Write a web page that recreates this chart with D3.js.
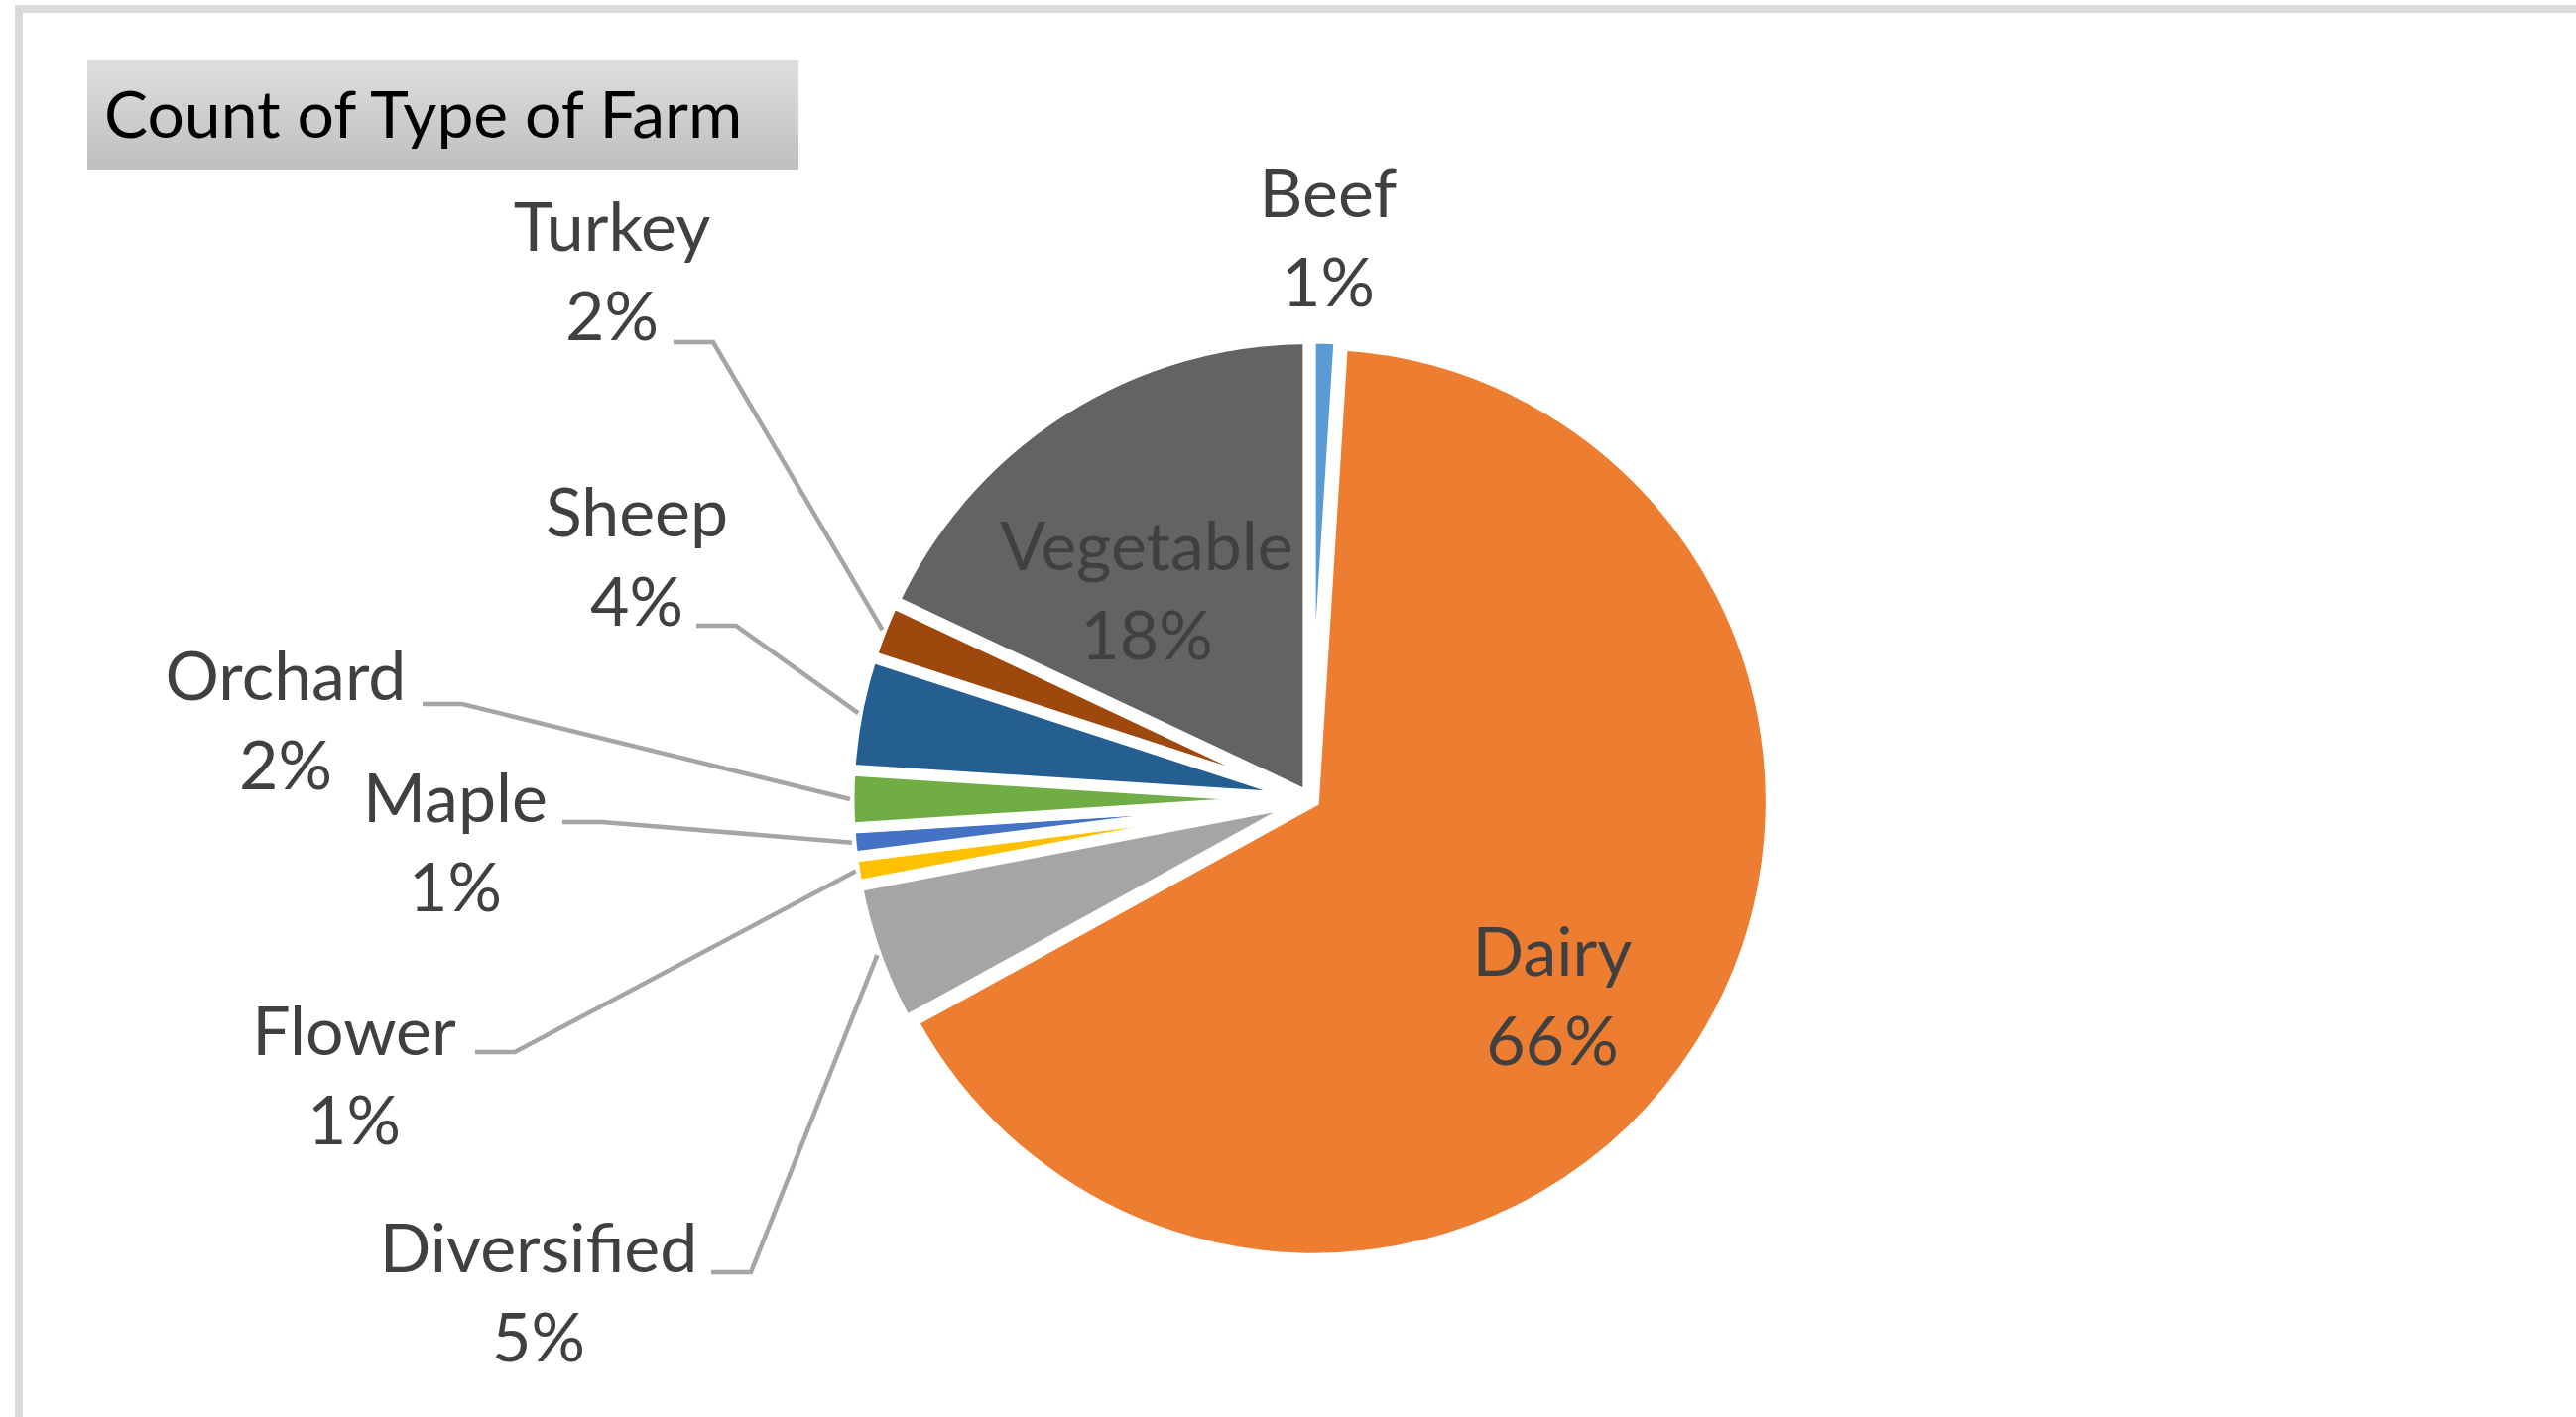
<!DOCTYPE html>
<html><head><meta charset="utf-8">
<script src="https://cdn.jsdelivr.net/npm/d3@7"></script>
<style>html,body{margin:0;padding:0;background:#fff;overflow:hidden}</style>
</head><body>
<svg id="chart" width="2597" height="1429"></svg>
<script>
// ---- data ----
const categories = ["Beef","Dairy","Diversified","Flower","Maple","Orchard","Sheep","Turkey","Vegetable"];
const counts     = [1, 66, 5, 1, 1, 2, 4, 2, 18];
const colors     = ["#5B9BD5","#ED7D31","#A5A5A5","#FFC000","#4472C4","#70AD47","#255E91","#9E480E","#636363"];
const chartTitle = "Count of Type of Farm";

// ---- label placement (Excel data-label positions) ----
const labelLayout = {
  Beef:        {x:1339, y:219},
  Dairy:       {x:1565, y:984},
  Diversified: {x:543,  y:1283, lx:717, ly:1283},
  Flower:      {x:357,  y:1064, lx:479, ly:1061},
  Maple:       {x:459,  y:829,  lx:567, ly:829},
  Orchard:     {x:288,  y:706,  lx:426, ly:710},
  Sheep:       {x:642,  y:541,  lx:702, ly:631},
  Turkey:      {x:617,  y:253,  lx:679, ly:345},
  Vegetable:   {x:1156, y:575}
};

const W = 2597, H = 1429;
const cx = 1321, cy = 806, R = 461, explode = 4;
const font = "Lato, 'Open Sans', sans-serif";
const svg = d3.select("#chart");

// chart area border
svg.append("rect").attr("x",19).attr("y",9).attr("width",W+40).attr("height",H+40)
  .attr("fill","#fff").attr("stroke","#d9d9d9").attr("stroke-width",8);

// title box
const grad = svg.append("defs").append("linearGradient").attr("id","tg")
  .attr("x1",0).attr("y1",0).attr("x2",0).attr("y2",1);
grad.append("stop").attr("offset","0%").attr("stop-color","#dedede");
grad.append("stop").attr("offset","100%").attr("stop-color","#bfbfbf");
svg.append("rect").attr("x",88).attr("y",61).attr("width",717).attr("height",110).attr("fill","url(#tg)");
svg.append("text").attr("x",105).attr("y",139).attr("font-family",font).attr("font-size",66)
  .attr("fill","#000").text(chartTitle);

const data = categories.map((c,i)=>({cat:c, value:counts[i], color:colors[i]}));
const total = d3.sum(counts);
const pct = d3.format(".0%");

const pie = d3.pie().value(d=>d.value).sort(null).startAngle(0).endAngle(2*Math.PI);
const arcs = pie(data);
const arc = d3.arc().innerRadius(0).outerRadius(R);
const edgeArc = d3.arc().innerRadius(R+3).outerRadius(R+3);
const mid = a => (a.startAngle + a.endAngle)/2;

const g = svg.append("g").attr("transform",`translate(${cx},${cy})`);
g.selectAll("path.slice").data(arcs).join("path").attr("class","slice")
  .attr("d",arc).attr("fill",d=>d.data.color)
  .attr("transform",d=>`translate(${explode*Math.sin(mid(d))},${-explode*Math.cos(mid(d))})`)
  .attr("stroke","#fff").attr("stroke-width",11).attr("stroke-linejoin","miter");

// leader lines
const line = d3.line();
arcs.forEach(a=>{
  const L = labelLayout[a.data.cat];
  if (L.lx === undefined) return;
  const p = edgeArc.centroid(a);
  const pts = [[L.lx, L.ly],[L.lx+40, L.ly],[cx+p[0], cy+p[1]]];
  svg.append("path").attr("d",line(pts)).attr("fill","none")
    .attr("stroke","#a5a5a5").attr("stroke-width",4.5);
});

// labels
arcs.forEach(a=>{
  const L = labelLayout[a.data.cat];
  const t = svg.append("text").attr("font-family",font).attr("font-size",68)
    .attr("fill","#404040").attr("text-anchor","middle");
  t.append("tspan").attr("x",L.x).attr("y",L.y).text(a.data.cat);
  t.append("tspan").attr("x",L.x).attr("y",L.y+90).text(pct(a.data.value/total));
});
</script>
</body></html>
